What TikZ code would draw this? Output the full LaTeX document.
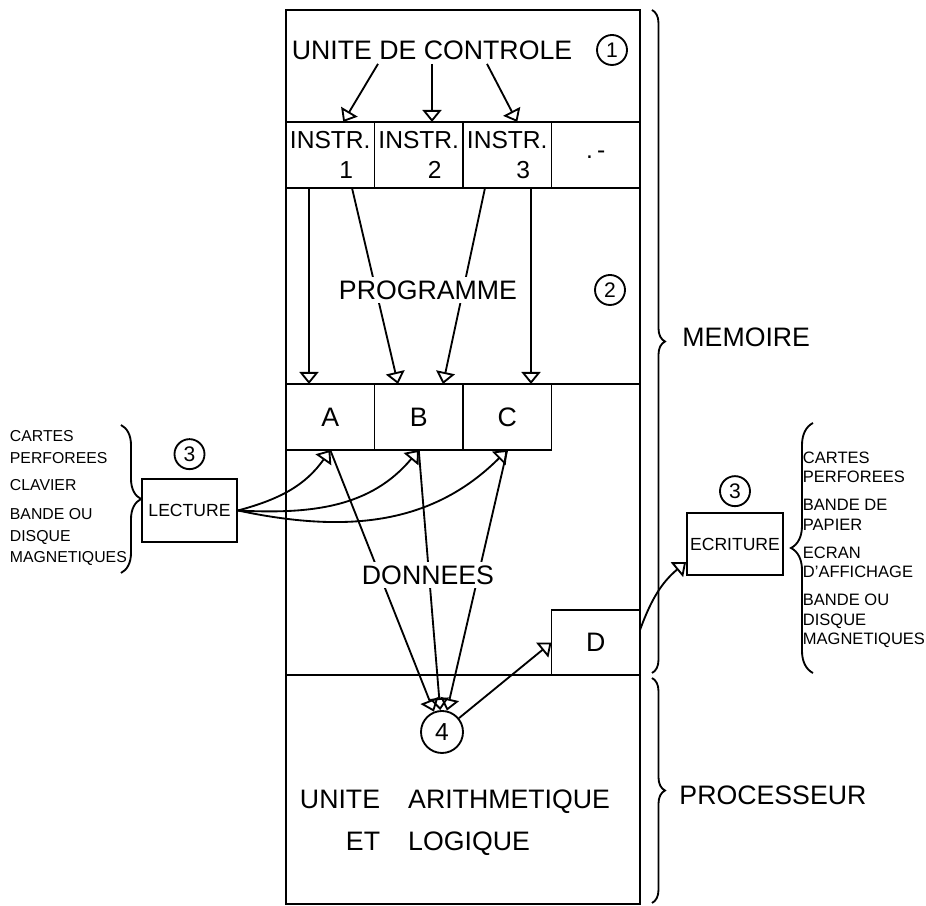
\documentclass[tikz,border=0pt]{standalone}
\usepackage{fontspec}
\setmainfont{Liberation Sans}
\usetikzlibrary{arrows.meta, positioning, decorations.pathreplacing}

\newcommand{\lblfont}{\fontsize{15.2}{18}\selectfont}
\newcommand{\instrfont}{\fontsize{14}{17}\selectfont}
\newcommand{\iofont}{\fontsize{10}{12}\selectfont}
\newcommand{\listfont}{\fontsize{9.4}{11}\selectfont}
\newcommand{\numfont}{\fontsize{12}{14}\selectfont}

\begin{document}
\begin{tikzpicture}[
  line width=1.05pt,
  cell/.style={draw, minimum width=1.77cm, minimum height=1.32cm, inner sep=0pt, outer sep=0pt, font=\lblfont},
  instr/.style={cell, font=\instrfont, align=center},
  iobox/.style={draw, minimum width=1.9cm, minimum height=1.26cm, inner sep=1pt, font=\iofont},
  num/.style={draw, circle, minimum size=0.6cm, inner sep=0pt, font=\numfont},
  lbl/.style={font=\lblfont, inner sep=2pt},
  gap/.style={lbl, fill=white},
  lst/.style={font=\listfont, align=left, inner sep=0pt, anchor=north west},
  arr/.style={-{Triangle[open, length=0.24cm, width=0.38cm]}},
  brc/.style={decorate, decoration={brace, amplitude=#1}}
]
  \useasboundingbox (0,0) rectangle (18.52,18.12);

  % machine frame
  \draw (5.72,0.04) rectangle (12.80,17.92);
  \draw (5.72,10.44) -- (12.80,10.44);
  \draw (5.72,4.62) -- (12.80,4.62);

  % instructions
  \node[instr] (i1) at (6.605,15.02) {INSTR.\\\hspace*{1.3em}1};
  \node[instr, right=0pt of i1] (i2) {INSTR.\\\hspace*{1.3em}2};
  \node[instr, right=0pt of i2] (i3) {INSTR.\\\hspace*{1.3em}3};
  \node[cell, right=0pt of i3, font=\instrfont] (i4) {.\,-};

  % data cells
  \node[cell] (A) at (6.605,9.78) {A};
  \node[cell, right=0pt of A] (B) {B};
  \node[cell, right=0pt of B] (C) {C};
  \node[cell, minimum height=1.30cm] (D) at (11.915,5.27) {D};
  \node[circle, draw, minimum size=0.84cm, inner sep=0pt, font=\instrfont] (op) at (8.84,3.48) {4};

  \node[lbl] (ctrl) at (8.64,17.12) {UNITE DE CONTROLE};
  \node[num] (n1) at (12.24,17.12) {1};
  \node[num] (n2) at (12.20,12.32) {2};
  \node[lbl, inner sep=0pt] (alu) at (9.10,1.70)
    {\def\arraystretch{1.33}\begin{tabular}{@{}r@{\hspace{16pt}}l@{}}UNITE & ARITHMETIQUE\\ET & LOGIQUE\end{tabular}};

  % input / output
  \node[iobox] (lect) at (3.79,7.91) {LECTURE};
  \node[num, above=0.16cm of lect] (n3l) {3};
  \node[iobox, minimum width=1.92cm, minimum height=1.24cm] (ecr) at (14.70,7.24) {ECRITURE};
  \node[num, above=0.1cm of ecr] (n3r) {3};

  \node[lst, font=\fontsize{9}{12}\selectfont] (inlist) at (0.18,9.52)
    {CARTES\\PERFOREES\\[3.4pt]CLAVIER\\[5pt]BANDE OU\\DISQUE\\MAGNETIQUES};
  \node[lst] (outlist) at (16.04,9.10)
    {CARTES\\PERFOREES\\[5pt]BANDE DE\\PAPIER\\[5pt]ECRAN\\D'AFFICHAGE\\[5pt]BANDE OU\\DISQUE\\MAGNETIQUES};

  \node[lbl, anchor=west] (mem) at (13.56,11.38) {MEMOIRE};
  \node[lbl, anchor=west] (proc) at (13.50,2.22) {PROCESSEUR};

  % braces
  \draw[brc=0.40cm] (2.42,9.62) -- (2.42,6.66);
  \draw[brc=0.44cm] (16.26,4.66) -- (16.26,9.66);
  \draw[brc=0.26cm] (13.04,17.92) -- (13.04,4.66);
  \draw[brc=0.26cm] (13.04,4.56) -- (13.04,0.06);

  % control -> instructions
  \draw[arr] ([xshift=-1.08cm]ctrl.south) -- ([xshift=0.26cm]i1.north);
  \draw[arr] (ctrl.south) -- (ctrl.south |- i2.north);
  \draw[arr] ([xshift=1.10cm]ctrl.south) -- ([xshift=0.20cm]i3.north);

  % instructions -> data
  \draw[arr] ([xshift=-0.425cm]i1.south) -- ([xshift=-0.425cm]A.north);
  \draw[arr] ([xshift=0.435cm]i1.south) -- ([xshift=-0.415cm]B.north);
  \draw[arr] ([xshift=-0.445cm]i3.south) -- ([xshift=0.485cm]B.north);
  \draw[arr] ([xshift=0.475cm]i3.south) -- ([xshift=0.475cm]C.north);

  % reading
  \draw[arr] (lect.east) to[out=15, in=-125] (A.south);
  \draw[arr] (lect.east) to[out=-3, in=-130] (B.south);
  \draw[arr] (lect.east) to[out=-12, in=-135] (C.south);

  % data -> operation -> result
  \draw[arr] (A.south) -- (op);
  \draw[arr] (B.south) -- (op);
  \draw[arr] (C.south) -- (op);
  \draw[arr] (op) -- (D.west);
  \draw[arr] ([yshift=0.25cm]D.east) to[out=70, in=-140] ([yshift=-0.36cm]ecr.west);

  % labels over the arrows
  \node[gap] (prog) at (8.56,12.32) {PROGRAMME};
  \node[gap] (data) at (8.56,6.62) {DONNEES};
\end{tikzpicture}
\end{document}
